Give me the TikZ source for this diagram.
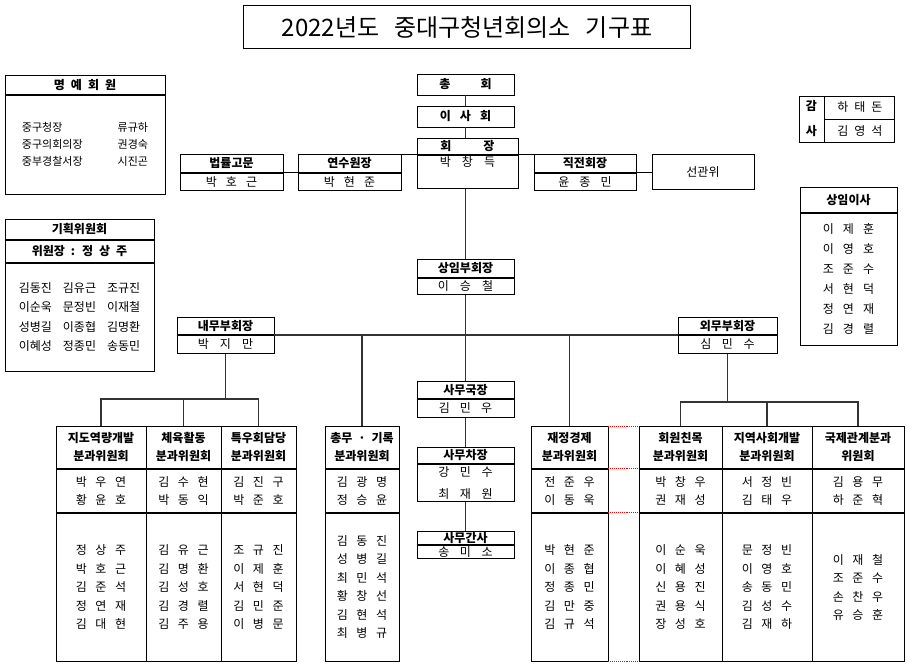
\documentclass[tikz,border=0pt]{standalone}
\usepackage{fontspec}
\setmainfont{Noto Sans CJK KR}

\tikzset{
    cell/.style={draw, line width=0.9pt, inner sep=0pt, align=center},
    head/.style={cell, font={\bfseries\fontsize{12}{18}\selectfont\spaceskip=#1pt\relax}},
    head/.default=6,
    body/.style={cell, font={\fontsize{12}{18.5}\selectfont\spaceskip=#1pt\relax}},
    body/.default=8.5,
    link/.style={line width=1.6pt, black!80},
    tie/.style={line width=0.9pt},
    gapline/.style={red, densely dotted, line width=0.9pt},
}

% name, x, top, width, head height, body height, head, body, body gap
\newcommand{\orgbox}[9]{%
    \node[head, minimum width=#4pt, minimum height=#5pt, anchor=north] (#1h) at (#2,#3) {#7};
    \node[body=#9, minimum width=#4pt, minimum height=#6pt, anchor=north] (#1b) at (#1h.south) {#8};
}

\begin{document}
\begin{tikzpicture}[x=1pt, y=-1pt]
    \useasboundingbox (0,0) rectangle (913,667);

    \node[draw, line width=1.6pt, minimum width=447pt, minimum height=43pt,
        font=\fontsize{24}{27}\selectfont] (title) at (467,27)
        {2022년도\hspace{15pt}중대구청년회의소\hspace{15pt}기구표};

    % top chain
    \node[head=30, minimum width=97pt, minimum height=21pt] (chonghoe) at (465.5,84.5) {총 회};
    \node[head=9, minimum width=97pt, minimum height=21pt] (isahoe) at (465.5,116.5) {이 사 회};
    \node[head=32, minimum width=101pt, minimum height=16pt, anchor=north] (hoejangh) at (467.5,138) {회 장};
    \node[body=11, minimum width=101pt, minimum height=33pt, anchor=north,
        text height=11pt, text depth=22pt] (hoejangb) at (hoejangh.south) {박 창 득};

    \orgbox{beop}{231.5}{154}{103}{18}{17}{법률고문}{박 호 근}{9}
    \orgbox{yeonsu}{349.5}{154}{103}{18}{17}{연수원장}{박 현 준}{9}
    \orgbox{jikjeon}{585}{154}{102}{18}{17}{직전회장}{윤 종 민}{10}
    \node[cell, font=\fontsize{12}{14}\selectfont, minimum width=102pt, minimum height=35pt,
        anchor=north] (seongwan) at (703,154) {선관위};

    % side boxes
    \node[head, minimum width=25pt, minimum height=46pt,
        font={\bfseries\fontsize{12}{25}\selectfont}] (gamsa) at (811.5,119) {감\\사};
    \node[body=6, minimum width=70pt, minimum height=23pt, anchor=north west] (gamsa1) at (gamsa.north east) {하 태 돈};
    \node[body=6, minimum width=70pt, minimum height=23pt, anchor=north] (gamsa2) at (gamsa1.south) {김 영 석};

    \orgbox{sangim}{848.5}{187}{97}{25}{132}{상임이사}
        {이 제 훈\\[1.5pt]이 영 호\\[1.5pt]조 준 수\\[1.5pt]서 현 덕\\[1.5pt]정 연 재\\[1.5pt]김 경 렬}{9}

    \orgbox{myeongye}{85}{75}{160}{19}{99}{명 예 회 원}
        {\fontsize{11}{17}\selectfont
         \begin{tabular}{@{}l@{\hspace{35pt}}l@{}}
         중구청장 & 류규하\\ 중구의회의장 & 권경숙\\ 중부경찰서장 & 시진곤
         \end{tabular}}{4}

    \node[head, minimum width=149pt, minimum height=20pt, anchor=north] (gihoekh) at (79.5,219) {기획위원회};
    \node[head, minimum width=149pt, minimum height=22pt, anchor=north] (gihoekc) at (gihoekh.south) {위원장 : 정 상 주};
    \node[body=11, minimum width=149pt, minimum height=108pt, anchor=north] (gihoekb) at (gihoekc.south)
        {김동진 김유근 조규진\\[1pt]이순욱 문정빈 이재철\\[1pt]성병길 이종협 김명환\\[1pt]이혜성 정종민 송동민};

    % vice chairs and secretariat
    \orgbox{bu}{465.5}{259}{97}{18}{16}{상임부회장}{이 승 철}{11}
    \orgbox{naemu}{225.5}{317}{97}{17}{18}{내무부회장}{박 지 만}{11}
    \orgbox{oemu}{727.5}{317}{99}{17}{18}{외무부회장}{심 민 수}{10.5}
    \orgbox{samuguk}{465.5}{381}{97}{17}{18}{사무국장}{김 민 우}{10}
    \orgbox{chajang}{465.5}{447}{97}{16}{37}{사무차장}{강 민 수\\[3.5pt]최 재 원}{10.5}
    \orgbox{gansa}{465.5}{531}{97}{13}{13}{사무간사}{송 미 소}{10.5}

    % committees
    \foreach \n/\cx/\w/\hd/\md/\bt in {
        c1/101/90/{지도역량개발\\분과위원회}/{박 우 연\\황 윤 호}/{정 상 주\\박 호 근\\김 준 석\\정 연 재\\김 대 현},
        c2/183.5/75/{체육활동\\분과위원회}/{김 수 현\\박 동 익}/{김 유 근\\김 명 환\\김 성 호\\김 경 렬\\김 주 용},
        c3/258.5/75/{특우회담당\\분과위원회}/{김 진 구\\박 준 호}/{조 규 진\\이 제 훈\\서 현 덕\\김 민 준\\이 병 문},
        c4/362/74/{총무 · 기록\\분과위원회}/{김 광 명\\정 승 윤}/{김 동 진\\성 병 길\\최 민 석\\황 창 선\\김 현 석\\최 병 규},
        c5/569.5/77/{재정경제\\분과위원회}/{전 준 우\\이 동 욱}/{박 현 준\\이 종 협\\정 종 민\\김 만 중\\김 규 석},
        c6/680.5/83/{회원친목\\분과위원회}/{박 창 우\\권 재 성}/{이 순 욱\\이 혜 성\\신 용 진\\권 용 식\\장 성 호},
        c7/767/90/{지역사회개발\\분과위원회}/{서 정 빈\\김 태 우}/{문 정 빈\\이 영 호\\송 동 민\\김 성 수\\김 재 하},
        c8/858/92/{국제관계분과\\위원회}/{김 용 무\\하 준 혁}/{이 재 철\\조 준 수\\손 찬 우\\유 승 훈}} {
        \node[head, minimum width=\w pt, minimum height=42pt, anchor=north] (h\n) at (\cx,426) {\hd};
        \node[body, minimum width=\w pt, minimum height=43pt, anchor=north] (m\n) at (h\n.south) {\md};
        \node[body, minimum width=\w pt, minimum height=148pt, anchor=north] (b\n) at (m\n.south) {\bt};
    }

    % connectors
    \draw[link] (chonghoe.south) -- (isahoe.north);
    \draw[link] (isahoe.south) -- (isahoe.south |- hoejangh.north);
    \draw[link] (isahoe.south |- hoejangb.south) -- (buh.north);
    \draw[link] (bub.south) -- (samugukh.north);
    \draw[link] (samugukb.south) -- (chajangh.north);
    \draw[link] (chajangb.south) -- (gansah.north);

    \draw[tie] (yeonsuh.north east) -- (jikjeonh.north west);
    \draw[tie] (beoph.south east) -- (yeonsuh.south west);
    \draw[tie] (jikjeonh.south east) -- (jikjeonh.south east -| seongwan.west);

    \draw[link] (naemuh.south east) -- (oemuh.south west);
    \draw[link] (hc4.north) -- (hc4.north |- naemuh.south);
    \draw[link] (hc5.north) -- (hc5.north |- naemuh.south);

    \draw[link] (naemub.south) -- ++(0,45) coordinate (naemuj);
    \draw[link] (hc1.north) |- (naemuj) -| (hc3.north);
    \draw[link] (hc2.north) -- (hc2.north |- naemuj);

    \draw[link] (oemub.south) -- ++(0,48) coordinate (oemuj);
    \draw[link] (hc6.north) |- (oemuj) -| (hc8.north);
    \draw[link] (hc7.north) -- (hc7.north |- oemuj);

    \draw[gapline] (hc5.north east) -- (hc6.north west);
    \draw[gapline] (hc5.south east) -- (hc6.south west);
    \draw[gapline] (mc5.south east) -- (mc6.south west);
    \draw[gapline] (bc5.south east) -- (bc6.south west);
\end{tikzpicture}
\end{document}
